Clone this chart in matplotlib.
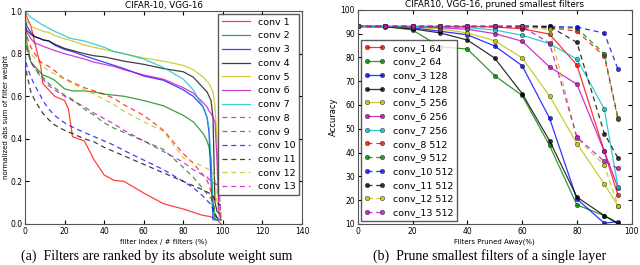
import matplotlib
matplotlib.use("Agg")
import matplotlib.pyplot as plt

# ---- left: normalized abs sum of filter weight, sorted ----
filter_idx = [0, 1, 3, 5, 8, 9, 12, 15, 20, 22, 24, 30, 35, 40, 45, 50, 60, 70,
              80, 85, 90, 92, 93, 94, 95, 96, 97, 98, 99]

conv1 = [1.0, 0.97, 0.93, 0.85, 0.74, 0.66, 0.63, 0.6, 0.58, 0.54, 0.41, 0.39, 0.3, 0.23,
         0.205, 0.2, 0.145, 0.095, 0.07, 0.055, 0.04, 0.037, 0.035, 0.033, 0.03, 0.025, 0.02, 0.01, 0.0]
conv2 = [0.98, 0.85, 0.76, 0.74, 0.71, 0.7, 0.69, 0.675, 0.635, 0.63, 0.625, 0.625, 0.62, 0.61,
         0.605, 0.6, 0.58, 0.555, 0.51, 0.48, 0.425, 0.39, 0.36, 0.3, 0.1, 0.02, 0.02, 0.02, 0.02]
conv3 = [0.96, 0.93, 0.9, 0.88, 0.87, 0.865, 0.86, 0.84, 0.82, 0.815, 0.81, 0.79, 0.775, 0.76,
         0.745, 0.73, 0.695, 0.675, 0.63, 0.6, 0.55, 0.5, 0.43, 0.2, 0.02, 0.02, 0.02, 0.02, 0.02]
conv4 = [0.93, 0.91, 0.89, 0.88, 0.87, 0.865, 0.86, 0.845, 0.825, 0.82, 0.815, 0.8, 0.79, 0.785,
         0.775, 0.765, 0.75, 0.73, 0.715, 0.69, 0.64, 0.62, 0.6, 0.58, 0.5, 0.1, 0.06, 0.05, 0.05]
conv5 = [0.97, 0.95, 0.93, 0.92, 0.91, 0.905, 0.9, 0.885, 0.87, 0.865, 0.86, 0.84, 0.83, 0.82,
         0.81, 0.8, 0.78, 0.765, 0.745, 0.725, 0.69, 0.67, 0.66, 0.64, 0.62, 0.55, 0.4, 0.1, 0.02]
conv6 = [0.93, 0.9, 0.87, 0.85, 0.84, 0.835, 0.825, 0.815, 0.8, 0.795, 0.79, 0.775, 0.76, 0.75,
         0.74, 0.725, 0.7, 0.68, 0.64, 0.615, 0.57, 0.55, 0.53, 0.52, 0.5, 0.48, 0.3, 0.05, 0.02]
conv7 = [1.0, 0.99, 0.97, 0.96, 0.94, 0.935, 0.92, 0.905, 0.885, 0.875, 0.87, 0.86, 0.845, 0.83,
         0.81, 0.8, 0.775, 0.735, 0.68, 0.63, 0.55, 0.5, 0.45, 0.3, 0.05, 0.02, 0.02, 0.02, 0.02]
conv8 = [0.92, 0.88, 0.83, 0.8, 0.76, 0.755, 0.74, 0.72, 0.68, 0.675, 0.665, 0.64, 0.625, 0.61,
         0.59, 0.56, 0.51, 0.44, 0.33, 0.285, 0.23, 0.205, 0.18, 0.15, 0.1, 0.05, 0.03, 0.02, 0.02]
conv9 = [0.88, 0.82, 0.76, 0.73, 0.7, 0.69, 0.66, 0.64, 0.605, 0.595, 0.585, 0.54, 0.51, 0.475,
         0.45, 0.43, 0.39, 0.35, 0.265, 0.22, 0.165, 0.14, 0.13, 0.12, 0.1, 0.05, 0.03, 0.02, 0.02]
conv10 = [0.8, 0.74, 0.69, 0.65, 0.6, 0.58, 0.54, 0.51, 0.475, 0.465, 0.455, 0.43, 0.41, 0.39,
          0.37, 0.345, 0.3, 0.255, 0.2, 0.17, 0.13, 0.11, 0.1, 0.09, 0.07, 0.04, 0.03, 0.02, 0.02]
conv11 = [0.76, 0.7, 0.62, 0.58, 0.535, 0.52, 0.49, 0.465, 0.44, 0.432, 0.425, 0.4, 0.385, 0.36,
          0.34, 0.32, 0.28, 0.24, 0.2, 0.18, 0.16, 0.15, 0.145, 0.14, 0.13, 0.11, 0.1, 0.09, 0.09]
conv12 = [0.87, 0.84, 0.8, 0.78, 0.75, 0.74, 0.72, 0.705, 0.68, 0.67, 0.66, 0.63, 0.61, 0.585,
          0.56, 0.53, 0.48, 0.435, 0.31, 0.29, 0.27, 0.26, 0.255, 0.25, 0.24, 0.22, 0.1, 0.03, 0.02]
conv13 = [0.87, 0.82, 0.76, 0.73, 0.69, 0.68, 0.65, 0.63, 0.6, 0.59, 0.58, 0.55, 0.52, 0.495,
          0.47, 0.44, 0.39, 0.34, 0.29, 0.255, 0.23, 0.22, 0.21, 0.2, 0.195, 0.19, 0.185, 0.18, 0.03]

# ---- right: accuracy after pruning smallest filters ----
pruned = [0, 10, 20, 30, 40, 50, 60, 70, 80, 90, 95]

acc1 = [93, 93, 93, 93, 93, 92.8, 92, 89.8, 76.8, 40.5, 22]
acc2 = [93, 93, 91.5, 84.5, 83.5, 72.3, 64, 43, 18, 13.5, 10.5]
acc3 = [93, 93, 92.5, 91, 89.5, 84.8, 76.5, 54.5, 20.5, 10.3, 11]
acc4 = [93, 92.8, 92, 90.3, 87.3, 79.7, 64.8, 45, 21.3, 13.5, 10]
acc5 = [93, 93, 92.8, 92, 90.3, 87, 79.8, 63.8, 43.8, 26.8, 17.5]
acc6 = [93, 93, 93, 92.5, 91.8, 90, 86.8, 76, 68.7, 40.5, 25.3]
acc7 = [93, 93, 93, 93, 92.5, 91.5, 89.3, 85.8, 79.3, 58.3, 25.5]
acc8 = [93, 93, 93, 93, 93, 93, 92.5, 92.5, 91, 80.5, 54]
acc9 = [93, 93, 93, 93, 93, 93, 92.8, 92.5, 92.3, 81.5, 54.5]
acc10 = [93, 93, 93, 93, 93, 93, 93, 93, 92.7, 90.2, 75]
acc11 = [93, 93, 93, 93, 93, 93, 93.2, 93, 86.3, 48, 37.7]
acc12 = [93, 93, 93, 93, 93, 93, 93, 91.8, 46, 34.7, 17.7]
acc13 = [93, 93, 93, 93, 93, 93, 93, 86, 46.5, 36.3, 33.3]

colors = ["r", "g", "b", "k", "y", "m", "c", "r", "g", "b", "k", "y", "m"]
left_series = [conv1, conv2, conv3, conv4, conv5, conv6, conv7,
               conv8, conv9, conv10, conv11, conv12, conv13]
right_series = [acc1, acc2, acc3, acc4, acc5, acc6, acc7,
                acc8, acc9, acc10, acc11, acc12, acc13]
right_labels = ["conv_1 64", "conv_2 64", "conv_3 128", "conv_4 128", "conv_5 256",
                "conv_6 256", "conv_7 256", "conv_8 512", "conv_9 512", "conv_10 512",
                "conv_11 512", "conv_12 512", "conv_13 512"]


def style_axes(ax):
    ax.tick_params(direction="in", top=True, right=True, labelsize=5.5, length=3, pad=2)
    for s in ax.spines.values():
        s.set_color("#555555")
        s.set_linewidth(0.8)


def line_kw(i):
    # first seven layers solid, the rest dashed (old-style long dashes)
    if i < 7:
        return {"ls": "-"}
    return {"ls": "--", "dashes": (4, 3)}


fig = plt.figure(figsize=(6.4, 2.65), dpi=100)

ax1 = fig.add_axes([0.039, 0.155, 0.433, 0.803])
for i, ys in enumerate(left_series):
    ax1.plot(filter_idx, ys, color=colors[i], lw=0.9, alpha=0.75,
             label="conv %d" % (i + 1), **line_kw(i))
ax1.set_xlim(0, 140)
ax1.set_ylim(0, 1.0)
ax1.set_xticks(range(0, 141, 20))
ax1.set_yticks([0.0, 0.2, 0.4, 0.6, 0.8, 1.0])
ax1.set_title("CIFAR-10, VGG-16", fontsize=6.3, pad=2)
ax1.set_xlabel("filter index / # filters (%)", fontsize=5, labelpad=2)
ax1.set_ylabel("normalized abs sum of filter weight", fontsize=5, labelpad=1)
style_axes(ax1)
leg1 = ax1.legend(loc="upper right", fontsize=6.8, handlelength=3, fancybox=False,
                  borderaxespad=0.3, labelspacing=0.5)
leg1.get_frame().set_edgecolor("#333333")

ax2 = fig.add_axes([0.559, 0.155, 0.428, 0.808])
for i, ys in enumerate(right_series):
    ax2.plot(pruned, ys, color=colors[i], lw=0.9, marker="o", ms=3.2,
             mec="#222222", mew=0.4, alpha=0.8, label=right_labels[i], **line_kw(i))
ax2.set_xlim(0, 100)
ax2.set_ylim(10, 100)
ax2.set_xticks(range(0, 101, 20))
ax2.set_yticks(range(10, 101, 10))
ax2.set_title("CIFAR10, VGG-16, pruned smallest filters", fontsize=6.3, pad=2)
ax2.set_xlabel("Filters Pruned Away(%)", fontsize=5, labelpad=2)
ax2.set_ylabel("Accuracy", fontsize=6, labelpad=2)
style_axes(ax2)
leg2 = ax2.legend(loc="lower left", fontsize=6.8, numpoints=2, handlelength=2.2,
                  fancybox=False, borderaxespad=0.3, labelspacing=0.5)
leg2.get_frame().set_edgecolor("#333333")

fig.text(0.245, 0.034, "(a)  Filters are ranked by its absolute weight sum",
         ha="center", va="center", fontsize=10, family="Liberation Serif")
fig.text(0.765, 0.034, "(b)  Prune smallest filters of a single layer",
         ha="center", va="center", fontsize=10, family="Liberation Serif")

fig.savefig("out.png", dpi=100)
